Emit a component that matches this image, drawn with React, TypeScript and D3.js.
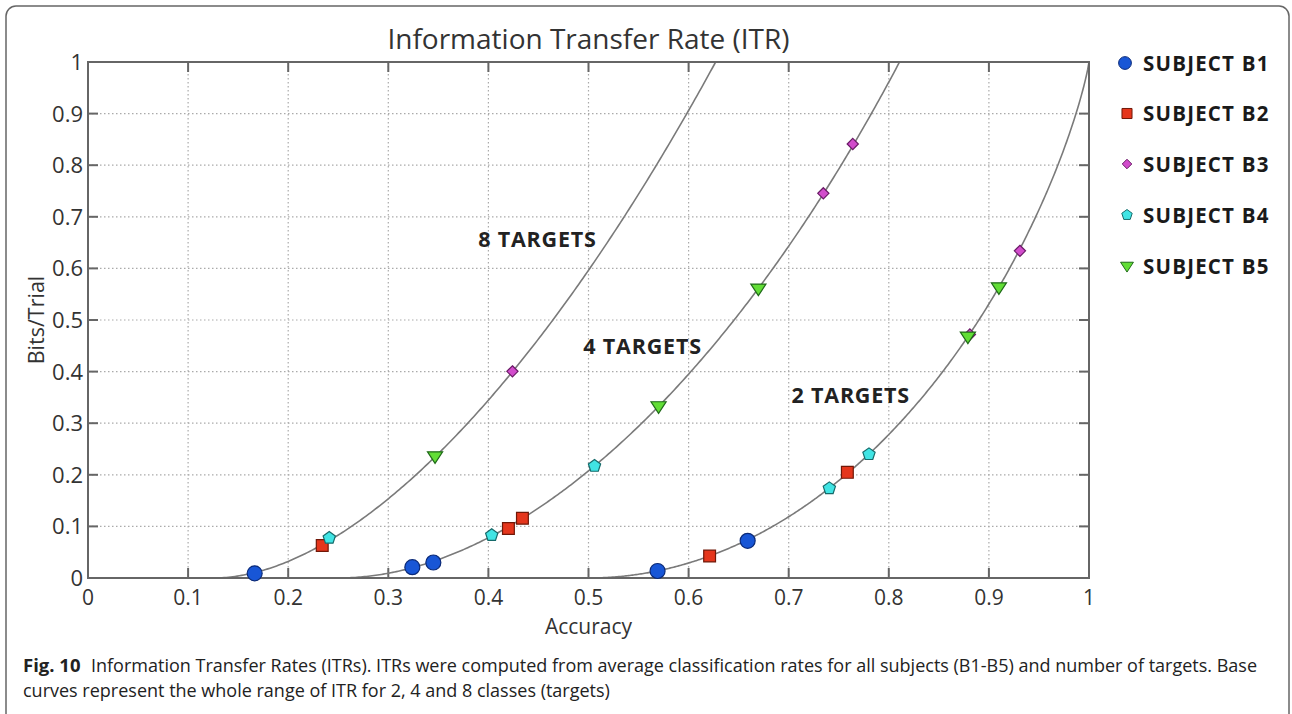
import React from "react";
import * as d3 from "d3";

// ---------- data ----------
const xTicks = [0, 0.1, 0.2, 0.3, 0.4, 0.5, 0.6, 0.7, 0.8, 0.9, 1];
const yTicks = [0, 0.1, 0.2, 0.3, 0.4, 0.5, 0.6, 0.7, 0.8, 0.9, 1];
const targetCounts = [2, 4, 8];
const targetLabels = ["2 TARGETS", "4 TARGETS", "8 TARGETS"];
const targetLabelPos = [
  [0.762, 0.34],
  [0.554, 0.435],
  [0.449, 0.642],
];

const subjects = ["SUBJECT B1", "SUBJECT B2", "SUBJECT B3", "SUBJECT B4", "SUBJECT B5"];
const b1 = [[0.1665, 0.009], [0.324, 0.021], [0.345, 0.03], [0.569, 0.0136], [0.659, 0.072]];
const b2 = [[0.234, 0.063], [0.42, 0.096], [0.434, 0.1157], [0.621, 0.0426], [0.7586, 0.2048]];
const b3 = [[0.424, 0.4005], [0.7346, 0.7455], [0.764, 0.841], [0.881, 0.472], [0.931, 0.634]];
const b4 = [[0.241, 0.0775], [0.4033, 0.083], [0.506, 0.217], [0.7406, 0.1738], [0.7802, 0.2397]];
const b5 = [[0.3467, 0.236], [0.57, 0.333], [0.6697, 0.561], [0.879, 0.468], [0.91, 0.5635]];
const seriesData = [b1, b2, b3, b4, b5];

const titleText = "Information Transfer Rate (ITR)";
const captionBold = "Fig. 10";
const captionLine1 = "Information Transfer Rates (ITRs). ITRs were computed from average classification rates for all subjects (B1-B5) and number of targets. Base";
const captionLine2 = "curves represent the whole range of ITR for 2, 4 and 8 classes (targets)";

// ---------- style ----------
const W = 1292;
const H = 714;
const M = { left: 88, right: 1089, top: 62, bottom: 578 };
const shapes = ["circle", "square", "diamond", "pentagon", "triangle"];
const fills = ["#1856d6", "#e5361c", "#d24ccc", "#40e4e4", "#62de36"];
const strokes = ["#0b2a78", "#701808", "#6a1a66", "#166a6a", "#1f6a18"];
const font = "'Open Sans', 'Noto Sans', sans-serif";

// Wolpaw bits per trial for N targets and accuracy P
function itr(n: number, p: number): number {
  if (p >= 1) return Math.log2(n);
  return Math.log2(n) + p * Math.log2(p) + (1 - p) * Math.log2((1 - p) / (n - 1));
}

function shapePath(shape: string, s: number): string {
  const line = d3.line();
  if (shape === "circle") {
    return d3.symbol(d3.symbolCircle, Math.PI * s * s)() as string;
  }
  if (shape === "square") {
    return d3.symbol(d3.symbolSquare, s * s * 3.2)() as string;
  }
  if (shape === "diamond") {
    const r = s * 0.8;
    return line([[0, -r], [r, 0], [0, r], [-r, 0]]) + "Z";
  }
  if (shape === "pentagon") {
    const r = s * 0.92;
    const pts: [number, number][] = [];
    for (let i = 0; i < 5; i++) {
      const a = -Math.PI / 2 + (i * 2 * Math.PI) / 5;
      pts.push([r * Math.cos(a), r * Math.sin(a)]);
    }
    return line(pts) + "Z";
  }
  // triangle pointing down
  const w = s * 1.05;
  const h = s * 1.6;
  return line([[-w, -h / 2.6], [w, -h / 2.6], [0, h * 0.62]]) + "Z";
}

export default function App() {
  const x = d3.scaleLinear().domain([0, 1]).range([M.left, M.right]);
  const y = d3.scaleLinear().domain([0, 1]).range([M.bottom, M.top]);

  const curveLine = d3
    .line<[number, number]>()
    .x((d) => x(d[0]))
    .y((d) => y(d[1]));

  const curves = targetCounts.map((n) => {
    const start = 1 / n;
    const pts: [number, number][] = [];
    const steps = 400;
    for (let i = 0; i <= steps; i++) {
      const p = start + ((1 - start) * i) / steps;
      pts.push([p, itr(n, p)]);
    }
    return curveLine(pts) as string;
  });

  const legendY = [63, 113.5, 164, 215, 266];
  const markerSizes = [7.5, 6.6, 7, 7, 7.2];

  return (
    <svg
      width={W}
      height={H}
      style={{ position: "absolute", left: 0, top: 0, background: "#fff" }}
      fontFamily={font}
    >
      <defs>
        <clipPath id="plotClip">
          <rect x={M.left} y={M.top} width={M.right - M.left} height={M.bottom - M.top} />
        </clipPath>
      </defs>
      <rect x={0} y={0} width={W} height={H} fill="#fff" />
      {/* outer frame */}
      <rect x={6} y={6} width={1283} height={730} rx={10} ry={10} fill="none" stroke="#666" strokeWidth={1.5} />

      {/* title */}
      <text x={x(0.5)} y={49} textAnchor="middle" fontSize={28} fill="#333">
        {titleText}
      </text>

      {/* grid */}
      {xTicks.slice(1, -1).map((t) => (
        <line key={"gx" + t} x1={x(t)} x2={x(t)} y1={M.top} y2={M.bottom} stroke="#aaa" strokeWidth={1.2} strokeDasharray="1.5,2.5" />
      ))}
      {yTicks.slice(1, -1).map((t) => (
        <line key={"gy" + t} x1={M.left} x2={M.right} y1={y(t)} y2={y(t)} stroke="#aaa" strokeWidth={1.2} strokeDasharray="1.5,2.5" />
      ))}

      {/* ticks on all sides */}
      {xTicks.slice(1, -1).map((t) => (
        <g key={"tx" + t} stroke="#666" strokeWidth={2}>
          <line x1={x(t)} x2={x(t)} y1={M.bottom} y2={M.bottom - 10} />
          <line x1={x(t)} x2={x(t)} y1={M.top} y2={M.top + 10} />
        </g>
      ))}
      {yTicks.slice(1, -1).map((t) => (
        <g key={"ty" + t} stroke="#666" strokeWidth={2}>
          <line x1={M.left} x2={M.left + 10} y1={y(t)} y2={y(t)} />
          <line x1={M.right} x2={M.right - 10} y1={y(t)} y2={y(t)} />
        </g>
      ))}

      {/* curves */}
      <g clipPath="url(#plotClip)">
        {curves.map((d, i) => (
          <path key={"c" + i} d={d} fill="none" stroke="#7a7a7a" strokeWidth={1.6} />
        ))}
      </g>

      {/* axis box */}
      <rect x={M.left} y={M.top} width={M.right - M.left} height={M.bottom - M.top} fill="none" stroke="#666" strokeWidth={2} />

      {/* tick labels */}
      {xTicks.map((t) => (
        <text key={"lx" + t} x={x(t)} y={605} textAnchor="middle" fontSize={21} fill="#333">
          {d3.format("~g")(t)}
        </text>
      ))}
      {yTicks.map((t) => (
        <text key={"ly" + t} x={83} y={y(t) + 8} textAnchor="end" fontSize={22} fill="#333">
          {d3.format("~g")(t)}
        </text>
      ))}

      {/* axis titles */}
      <text x={x(0.5)} y={634} textAnchor="middle" fontSize={21} fill="#333">
        Accuracy
      </text>
      <text transform={`translate(44,${y(0.5)}) rotate(-90)`} textAnchor="middle" fontSize={21.5} fill="#333">
        Bits/Trial
      </text>

      {/* curve labels */}
      {targetLabels.map((l, i) => (
        <text
          key={l}
          x={x(targetLabelPos[i][0])}
          y={y(targetLabelPos[i][1])}
          textAnchor="middle"
          fontSize={21.5}
          fontWeight="bold"
          letterSpacing={0.8}
          fill="#222"
        >
          {l}
        </text>
      ))}

      {/* markers */}
      {seriesData.map((pts, si) => (
        <g key={"s" + si}>
          {pts.map((p, pi) => (
            <path
              key={pi}
              d={shapePath(shapes[si], markerSizes[si])}
              transform={`translate(${x(p[0])},${y(p[1])})`}
              fill={fills[si]}
              stroke={strokes[si]}
              strokeWidth={1.2}
            />
          ))}
        </g>
      ))}

      {/* legend */}
      {subjects.map((s, i) => (
        <g key={s}>
          <path
            d={shapePath(shapes[i], markerSizes[i] * 0.85)}
            transform={`translate(${i === 0 ? 1125 : 1127},${legendY[i]})`}
            fill={fills[i]}
            stroke={strokes[i]}
            strokeWidth={1}
          />
          <text x={1143} y={legendY[i] + 7.5} fontSize={20.5} fontWeight="bold" letterSpacing={1.2} fill="#1a1a1a">
            {s}
          </text>
        </g>
      ))}

      {/* caption */}
      <text x={23} y={672} fontSize={18.5} fill="#222">
        <tspan fontWeight="bold">{captionBold}</tspan>
      </text>
      <text x={91} y={672} fontSize={18} fill="#222">
        {captionLine1}
      </text>
      <text x={23} y={697} fontSize={18} fill="#222">
        {captionLine2}
      </text>
    </svg>
  );
}
